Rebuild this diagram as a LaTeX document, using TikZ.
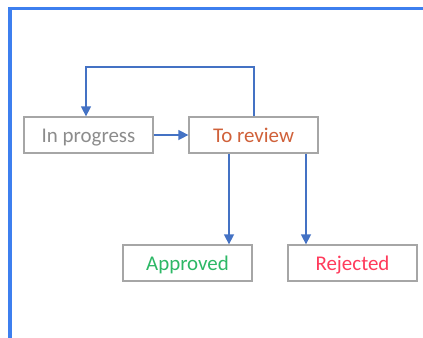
\documentclass[tikz,border=0pt]{standalone}
\usepackage{fontspec}
\setmainfont{Carlito}
\usetikzlibrary{arrows.meta}
\definecolor{framecol}{HTML}{3D7FEF}
\definecolor{arrcol}{HTML}{4472C4}
\definecolor{boxcol}{HTML}{A6A6A6}
\definecolor{txgray}{HTML}{8C8C8C}
\definecolor{txorange}{HTML}{D0613A}
\definecolor{txgreen}{HTML}{2DB866}
\definecolor{txred}{HTML}{FF3B5C}
\tikzset{
  statebox/.style={draw=boxcol, line width=1.3bp, fill=white, minimum width=129bp, minimum height=36bp, inner sep=0pt, text height=16bp, text depth=1bp, font=\fontsize{21}{24}\selectfont},
  arr/.style={draw=arrcol, line width=1.5bp, -{Triangle[width=10bp,length=10bp]}},
}
\begin{document}
\begin{tikzpicture}[x=1bp,y=-1bp]
\useasboundingbox (0,0) rectangle (423,338);
\draw[framecol, line width=3bp] (10,338) -- (10,8) -- (423,8);
\node[statebox, text=txgray] (ip) at (88.5,135) {In progress};
\node[statebox, text=txorange] (tr) at (253.5,135) {To review};
\node[statebox, text=txgreen] (ap) at (187.5,263) {Approved};
\node[statebox, text=txred] (rj) at (352.5,263) {Rejected};
\coordinate (lr) at (254,67);
\coordinate (ll) at (86,67);
\coordinate (da) at (229,200);
\coordinate (dr) at (306,200);
\draw[arr] (tr.north -| lr) -- (lr) -- (ll) -- (ip.north -| ll);
\draw[arr] (ip.east) -- (tr.west);
\draw[arr] (tr.south -| da) -- (ap.north -| da);
\draw[arr] (tr.south -| dr) -- (rj.north -| dr);
\end{tikzpicture}
\end{document}
